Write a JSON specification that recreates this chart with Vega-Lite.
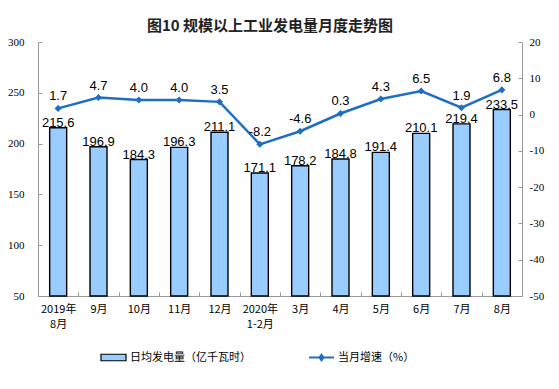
{
  "$schema": "https://vega.github.io/schema/vega-lite/v6.json",
  "width": 484,
  "height": 254,
  "autosize": {"type": "none"},
  "padding": {"left": 38, "top": 42, "right": 37, "bottom": 93},
  "background": "white",
  "title": {"text": "图10 规模以上工业发电量月度走势图", "font": "Noto Sans CJK SC", "fontSize": 15, "fontWeight": "bold", "color": "#222", "offset": 2, "dx": -10},
  "config": {
    "view": {"stroke": null},
    "locale": {"number": {"decimal": ".", "thousands": ",", "grouping": [3], "currency": ["", ""], "minus": "-"}},
    "axis": {"grid": false, "domainColor": "#999", "tickColor": "#999", "labelColor": "#000", "labelOverlap": false},
    "axisRight": {"labelOverlap": false},
    "axisQuantitative": {"labelOverlap": false}
  },
  "data": {"values": [
    {"m": "2019年|8月", "gen": 215.6, "growth": 1.7},
    {"m": "9月", "gen": 196.9, "growth": 4.7},
    {"m": "10月", "gen": 184.3, "growth": 4.0},
    {"m": "11月", "gen": 196.3, "growth": 4.0},
    {"m": "12月", "gen": 211.1, "growth": 3.5},
    {"m": "2020年|1-2月", "gen": 171.1, "growth": -8.2},
    {"m": "3月", "gen": 178.2, "growth": -4.6},
    {"m": "4月", "gen": 184.8, "growth": 0.3},
    {"m": "5月", "gen": 191.4, "growth": 4.3},
    {"m": "6月", "gen": 210.1, "growth": 6.5},
    {"m": "7月", "gen": 219.4, "growth": 1.9},
    {"m": "8月", "gen": 233.5, "growth": 6.8}
  ]},
  "encoding": {
    "x": {"field": "m", "type": "nominal", "sort": null,
      "scale": {"paddingInner": 0, "paddingOuter": 0},
      "axis": {"title": null, "labelAngle": 0, "labelExpr": "isValid(datum.value) ? split(datum.value, '|') : ''", "labelFont": "Noto Sans CJK SC", "labelFontSize": 11, "labelLineHeight": 15, "labelPadding": 11, "tickBand": "extent", "tickSize": -4, "labelBaseline": "top"}}
  },
  "layer": [
    {
      "encoding": {
        "y": {"field": "gen", "type": "quantitative", "scale": {"domain": [50, 300], "zero": false, "nice": false},
          "axis": {"title": null, "values": [50, 100, 150, 200, 250, 300], "labelOverlap": false, "labelFont": "Liberation Serif", "labelFontSize": 11, "tickSize": -4, "labelPadding": 18}}
      },
      "layer": [
        {
          "mark": {"type": "bar", "size": 17, "stroke": "#000", "strokeWidth": 1.4},
          "encoding": {
            "y2": {"datum": 50},
            "fill": {"datum": "日均发电量（亿千瓦时）", "type": "nominal", "scale": {"range": ["#99CCFF"]},
              "legend": {"title": null, "orient": "none", "legendX": 62, "legendY": 302, "padding": 0,
                "symbolType": "M-1,-0.26H1V0.26H-1Z", "symbolSize": 625, "symbolStrokeColor": "#000", "symbolStrokeWidth": 1.2, "symbolFillColor": "#99CCFF",
                "labelFont": "Noto Sans CJK SC", "labelFontSize": 11, "labelOffset": 3, "labelColor": "#000"}}
          }
        },
        {
          "mark": {"type": "text", "baseline": "alphabetic", "dy": -1, "font": "Liberation Sans", "fontSize": 13, "color": "#000"},
          "encoding": {
            "text": {"field": "gen", "type": "quantitative", "format": ".1f"}
          }
        }
      ]
    },
    {
      "encoding": {
        "y": {"field": "growth", "type": "quantitative", "scale": {"domain": [-50, 20], "nice": false},
          "axis": {"title": null, "orient": "right", "values": [-50, -40, -30, -20, -10, 0, 10, 20], "labelOverlap": false, "labelFont": "Liberation Serif", "labelFontSize": 11, "tickSize": -4, "labelPadding": 11}}
      },
      "layer": [
        {
          "mark": {"type": "line", "strokeWidth": 2.5},
          "encoding": {
            "stroke": {"datum": "当月增速（%）", "type": "nominal", "scale": {"range": ["#1F6EC4"]},
              "legend": {"title": null, "orient": "none", "legendX": 270, "legendY": 302, "padding": 0,
                "symbolType": "M-1,0H1M0,-0.22L0.16,0L0,0.22L-0.16,0Z", "symbolSize": 625, "symbolStrokeColor": "#1F6EC4", "symbolStrokeWidth": 2, "symbolFillColor": "#1F6EC4",
                "labelFont": "Noto Sans CJK SC", "labelFontSize": 11, "labelOffset": 3, "labelColor": "#000"}}
          }
        },
        {
          "mark": {"type": "point", "shape": "diamond", "filled": true, "size": 50, "color": "#1F6EC4", "opacity": 1}
        },
        {
          "mark": {"type": "text", "baseline": "alphabetic", "dy": -8, "font": "Liberation Sans", "fontSize": 13, "color": "#000"},
          "encoding": {
            "text": {"field": "growth", "type": "quantitative", "format": ".1f"}
          }
        }
      ]
    }
  ],
  "resolve": {"scale": {"y": "independent", "fill": "independent", "stroke": "independent"}}
}
